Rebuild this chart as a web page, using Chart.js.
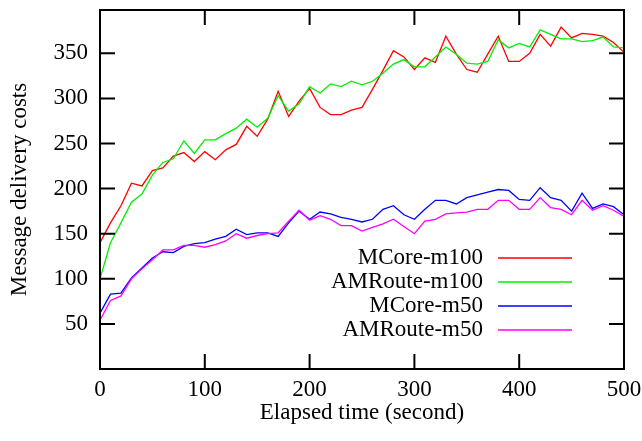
<!DOCTYPE html>
<html>
<head>
<meta charset="utf-8">
<script src="https://cdn.jsdelivr.net/npm/chart.js@4/dist/chart.umd.min.js"></script>
<style>
html,body{margin:0;padding:0;background:#fff;}
#wrap{width:642px;height:441px;}
</style>
</head>
<body>
<div id="wrap"><canvas id="c" width="642" height="441"></canvas></div>
<script>
const times = [0,10,20,30,40,50,60,70,80,90,100,110,120,130,140,150,160,170,180,190,200,210,220,230,240,250,260,270,280,290,300,310,320,330,340,350,360,370,380,390,400,410,420,430,440,450,460,470,480,490,500];
const mcoreM100 = [140,162,181,206,203,220,223,236,240,230,241,232,243,249,269,258,277,308,280,297,311,290,282,282,287,290,310,331,353,346,332,345,340,369,349,332,329,349,369,341,341,350,371,358,379,367,372,371,369,362,351];
const amrouteM100 = [100,140,162,185,194,215,229,233,253,239,254,254,261,267,277,268,278,303,286,294,313,306,316,313,319,315,319,328,338,343,335,335,346,357,349,339,338,341,365,356,361,357,376,371,366,366,363,364,368,357,356];
const mcoreM50 = [62,83,84,101,112,123,130,129,136,139,140,144,147,155,149,151,151,147,162,175,166,174,172,168,166,163,166,177,181,171,166,177,187,187,183,190,193,196,199,198,188,187,201,190,187,175,195,178,183,180,171];
const amrouteM50 = [54,76,81,100,111,121,132,132,137,137,135,138,142,150,145,148,150,151,164,176,165,170,166,159,159,153,157,161,166,158,150,164,166,172,173,174,177,177,187,187,177,177,190,179,177,171,187,176,181,176,169];
const seriesLabels = ["MCore-m100","AMRoute-m100","MCore-m50","AMRoute-m50"];
const xTicks = [0,100,200,300,400,500];
const yTicks = [50,100,150,200,250,300,350];
const xTitle = "Elapsed time (second)";
const yTitle = "Message delivery costs";

const FONT = "'Liberation Serif', 'Times New Roman', serif";
const FS = 23;
const colors = ["#ff0000","#00f000","#0000ff","#ff00ff"];
const seriesData = [mcoreM100, amrouteM100, mcoreM50, amrouteM50];

const datasets = seriesData.map((vals, k) => ({
  label: seriesLabels[k],
  data: vals.map((v, i) => ({x: times[i], y: v})),
  borderColor: colors[k],
  backgroundColor: colors[k],
  borderWidth: 1.3,
  pointRadius: 0,
  tension: 0,
  fill: false,
  order: 4 - k
}));

const framePlugin = {
  id: 'frame',
  afterDraw(chart) {
    const ctx = chart.ctx;
    const a = chart.chartArea;
    const xs = chart.scales.x, ys = chart.scales.y;
    const TL = 15;
    ctx.save();
    ctx.strokeStyle = '#000';
    ctx.lineWidth = 2;
    ctx.beginPath();
    xTicks.forEach(v => {
      const px = xs.getPixelForValue(v);
      ctx.moveTo(px, a.bottom); ctx.lineTo(px, a.bottom - TL);
      ctx.moveTo(px, a.top); ctx.lineTo(px, a.top + TL);
    });
    yTicks.forEach(v => {
      const py = ys.getPixelForValue(v);
      ctx.moveTo(a.left, py); ctx.lineTo(a.left + TL, py);
      ctx.moveTo(a.right, py); ctx.lineTo(a.right - TL, py);
    });
    ctx.stroke();
    ctx.strokeRect(a.left, a.top, a.right - a.left, a.bottom - a.top);
    // legend
    ctx.font = FS + "px " + FONT;
    ctx.fillStyle = '#000';
    ctx.textAlign = 'right';
    ctx.textBaseline = 'middle';
    chart.data.datasets.forEach((ds, i) => {
      const y = 258 + 24 * i;
      ctx.fillText(ds.label, 483, y);
      ctx.strokeStyle = ds.borderColor;
      ctx.lineWidth = 1.3;
      ctx.beginPath();
      ctx.moveTo(498, y); ctx.lineTo(572, y);
      ctx.stroke();
    });
    ctx.restore();
  }
};

function zeroPad(s) { s.paddingLeft = 0; s.paddingRight = 0; s.paddingTop = 0; s.paddingBottom = 0; }

new Chart(document.getElementById('c'), {
  type: 'line',
  data: { datasets },
  options: {
    responsive: false,
    animation: false,
    devicePixelRatio: 1,
    layout: { padding: { left: 0, top: 10, right: 18, bottom: 0 } },
    plugins: { legend: { display: false }, tooltip: { enabled: false } },
    scales: {
      x: {
        type: 'linear', min: 0, max: 500,
        afterBuildTicks: s => { s.ticks = xTicks.map(v => ({value: v})); },
        afterFit: s => { s.height = 72; zeroPad(s); },
        grid: { display: false, drawTicks: false },
        border: { display: false },
        ticks: { color: '#000', font: { family: FONT, size: FS }, padding: 7, maxRotation: 0 },
        title: { display: true, text: xTitle, color: '#000', font: { family: FONT, size: FS }, padding: { top: 0, bottom: 14 } }
      },
      y: {
        type: 'linear', min: 0, max: 398,
        afterBuildTicks: s => { s.ticks = yTicks.map(v => ({value: v})); },
        afterFit: s => { s.width = 100; zeroPad(s); },
        grid: { display: false, drawTicks: false },
        border: { display: false },
        ticks: { color: '#000', font: { family: FONT, size: FS }, padding: 12 },
        title: { display: true, text: yTitle, color: '#000', font: { family: FONT, size: FS }, padding: { top: 6, bottom: 0 } }
      }
    }
  },
  plugins: [framePlugin]
});
</script>
</body>
</html>
